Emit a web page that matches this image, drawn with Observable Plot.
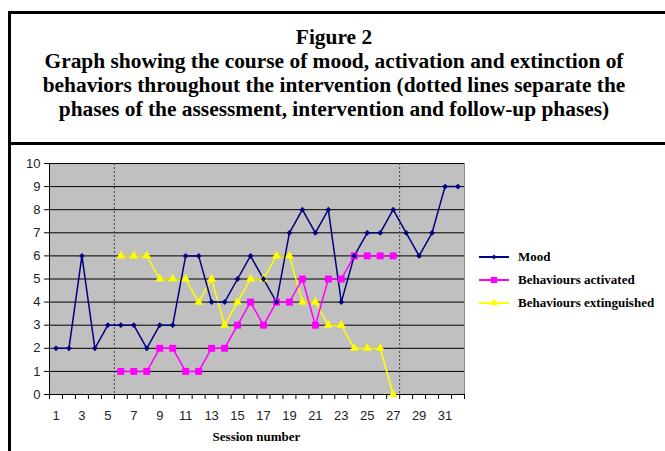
<!DOCTYPE html>
<html><head><meta charset="utf-8">
<script src="https://cdn.jsdelivr.net/npm/d3@7"></script>
<script src="https://cdn.jsdelivr.net/npm/@observablehq/plot@0.6"></script>
<style>
html,body{margin:0;padding:0;background:#fff;}
body{width:665px;height:451px;overflow:hidden;position:relative;}
#frame{position:absolute;left:8px;top:11px;width:700px;height:500px;border-left:3px solid #000;border-top:3px solid #000;}
#divider{position:absolute;left:8px;top:142px;width:700px;height:3px;background:#000;}
.tl{position:absolute;left:0;width:668px;text-align:center;font-family:"Liberation Serif","Times New Roman",serif;font-weight:bold;font-size:20px;line-height:20px;color:#000;white-space:nowrap;transform:scaleX(1.07);transform-origin:334px 0;}
#chart{position:absolute;left:0;top:146px;}
.lg{position:absolute;left:478px;height:14px;display:flex;align-items:center;font-family:"Liberation Serif","Times New Roman",serif;font-weight:bold;font-size:13px;color:#000;white-space:nowrap;}
.lg svg{margin-right:8px;}
#xlabel{position:absolute;left:49px;width:415px;text-align:center;top:429px;font-family:"Liberation Serif","Times New Roman",serif;font-weight:bold;font-size:13px;color:#000;}
</style></head>
<body>
<div id="frame"></div>
<div id="divider"></div>
<div class="tl" style="top:27px">Figure 2</div>
<div class="tl" style="top:51px">Graph showing the course of mood, activation and extinction of</div>
<div class="tl" style="top:75px">behaviors throughout the intervention (dotted lines separate the</div>
<div class="tl" style="top:99px">phases of the assessment, intervention and follow-up phases)</div>
<div id="chart"></div>
<div id="legend"></div>
<div id="xlabel">Session number</div>
<script>
const sessions = [1,2,3,4,5,6,7,8,9,10,11,12,13,14,15,16,17,18,19,20,21,22,23,24,25,26,27,28,29,30,31,32];
const mood = [2,2,6,2,3,3,3,2,3,3,6,6,4,4,5,6,5,4,7,8,7,8,4,6,7,7,8,7,6,7,9,9];
const interventionSessions = [6,7,8,9,10,11,12,13,14,15,16,17,18,19,20,21,22,23,24,25,26,27];
const activated = [1,1,1,2,2,1,1,2,2,3,4,3,4,4,5,3,5,5,6,6,6,6];
const extinguished = [6,6,6,5,5,5,4,5,3,4,5,5,6,6,4,4,3,3,2,2,2,0];
const xTickLabels = [1,3,5,7,9,11,13,15,17,19,21,23,25,27,29,31];
const xTickMarks = d3.range(0.5, 33, 1);
const yTicks = [0,1,2,3,4,5,6,7,8,9,10];
const phaseBoundaries = [5.5, 27.5];
const seriesNames = ["Mood", "Behaviours activated", "Behaviours extinguished"];
const seriesColors = ["#000080", "#ff00ff", "#ffff00"];
const seriesSymbols = ["diamond2", "square", "triangle"];
const seriesR = [2.6, 3.9, 3.3];

const moodData = sessions.map((s, i) => ({session: s, value: mood[i]}));
const actData = interventionSessions.map((s, i) => ({session: s, value: activated[i]}));
const extData = interventionSessions.map((s, i) => ({session: s, value: extinguished[i]}));
const all = [moodData, actData, extData];

const marks = [
  Plot.frame({fill: "#c0c0c0", stroke: "#8a8a8a"}),
  Plot.ruleY(yTicks, {stroke: "#000", strokeWidth: 1}),
  Plot.ruleX(phaseBoundaries, {stroke: "#404040", strokeDasharray: "2,2", strokeWidth: 1}),
  Plot.ruleX([0.5], {stroke: "#000"}),
  Plot.axisY(yTicks, {tickSize: 5, tickPadding: 4, stroke: "#000", fill: "#222", label: null}),
  Plot.axisX(xTickMarks, {tickSize: 5, tickFormat: () => "", stroke: "#000", label: null}),
  Plot.axisX(xTickLabels, {tickSize: 0, tickPadding: 16, fill: "#222", label: null})
];
[2, 1, 0].forEach(k => {
  marks.push(Plot.line(all[k], {x: "session", y: "value", stroke: seriesColors[k], strokeWidth: 1.5}));
});
[2, 1, 0].forEach(k => {
  marks.push(Plot.dot(all[k], {x: "session", y: "value", symbol: () => seriesSymbols[k], r: seriesR[k], fill: seriesColors[k], stroke: "none"}));
});

const chart = Plot.plot({
  width: 665, height: 305,
  marginLeft: 49, marginRight: 201, marginTop: 17, marginBottom: 57,
  style: {fontFamily: "'Liberation Sans', Arial, sans-serif", fontSize: "13px", background: "transparent", overflow: "visible"},
  x: {type: "linear", domain: [0.5, 32.5], axis: null, label: null},
  y: {domain: [0, 10], axis: null, label: null},
  symbol: {type: "identity"},
  marks
});
document.getElementById("chart").appendChild(chart);

const legendTops = [250, 273, 296];
const legend = document.getElementById("legend");
seriesNames.forEach((name, k) => {
  const div = document.createElement("div");
  div.className = "lg";
  div.style.top = legendTops[k] + "px";
  const svg = d3.create("svg").attr("width", 32).attr("height", 14);
  svg.append("line").attr("x1", 1).attr("x2", 31).attr("y1", 7).attr("y2", 7)
     .attr("stroke", seriesColors[k]).attr("stroke-width", 2);
  const sym = {diamond2: d3.symbolDiamond2, square: d3.symbolSquare, triangle: d3.symbolTriangle}[seriesSymbols[k]];
  svg.append("path").attr("transform", "translate(16,7)")
     .attr("d", d3.symbol(sym, Math.PI * seriesR[k] * seriesR[k] * 0.8)())
     .attr("fill", seriesColors[k]);
  div.appendChild(svg.node());
  div.appendChild(document.createTextNode(name));
  legend.appendChild(div);
});
</script>
</body></html>
